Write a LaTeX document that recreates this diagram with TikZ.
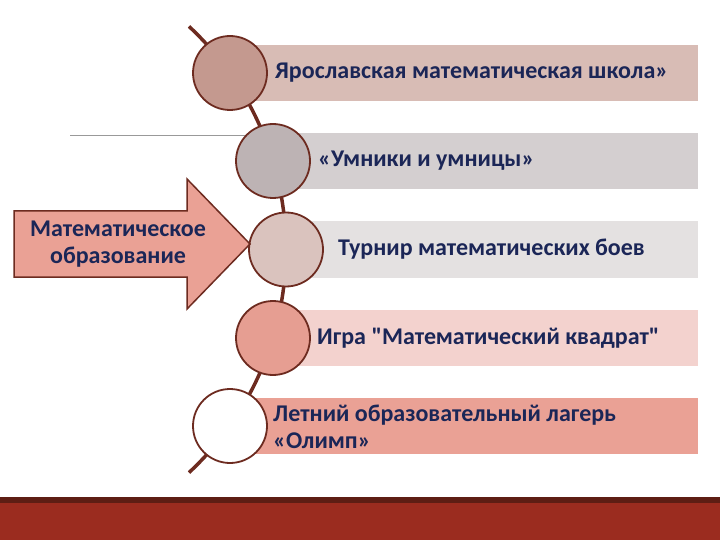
\documentclass[tikz,border=0pt]{standalone}
\usepackage{fontspec}
\setmainfont{Carlito}
\definecolor{rim}{HTML}{6D2B20}
\definecolor{ink}{HTML}{1B2657}
\definecolor{band}{HTML}{9B2C1F}
\definecolor{bandline}{HTML}{5E1E14}
\definecolor{barA}{HTML}{D8BCB5}
\definecolor{barB}{HTML}{D4CFD0}
\definecolor{barC}{HTML}{E4E1E1}
\definecolor{barD}{HTML}{F3D2CE}
\definecolor{barE}{HTML}{EAA195}
\definecolor{dotA}{HTML}{C4998F}
\definecolor{dotB}{HTML}{BDB3B4}
\definecolor{dotC}{HTML}{DAC3BE}
\definecolor{dotD}{HTML}{E69E92}
\definecolor{dotE}{HTML}{FFFFFF}
\tikzset{
  dot/.style={circle, draw=rim, line width=1.8pt, minimum size=74pt, inner sep=0pt},
  label/.style={anchor=west, text=ink, font=\fontsize{24}{27}\selectfont\bfseries, align=left, inner sep=0pt}
}
\begin{document}
\begin{tikzpicture}[x=1pt,y=-1pt]
  \useasboundingbox (0,0) rectangle (720,540);
  % bottom band
  \fill[bandline] (0,497) rectangle (720,503);
  \fill[band] (0,503) rectangle (720,540);
  \draw[gray!80] (70,135) -- (245,135);
  % bars
  \foreach \y/\x/\col in {73/230/barA, 161/273/barB, 249.5/286/barC, 338/273/barD, 426/230/barE}
    \fill[\col] (\x,\y-28) rectangle (698,\y+28);
  % bent line
  \coordinate (hub) at (-19,249.5);
  \draw[rim, line width=3.5pt] (hub) ++(-47:305) arc (-47:47:305);
  % circles
  \foreach \n/\y/\x/\col in {1/73/230/dotA, 2/161/273/dotB, 3/249.5/286/dotC, 4/338/273/dotD, 5/426/230/dotE}
    \node[dot, fill=\col] (c\n) at (\x,\y) {};
  \node[label] (t1) at (275,73) {Ярославская математическая школа»};
  \node[label] (t2) at (318,161) {«Умники и умницы»};
  \node[label] (t3) at (338,249.5) {Турнир математических боев};
  \node[label] (t4) at (317,338) {Игра \textquotedbl Математический квадрат\textquotedbl};
  \node[label] (t5) at (273,427) {Летний образовательный лагерь\\«Олимп»};
  % arrow
  \draw[rim, fill=barE, line width=1.5pt] (14,211) -- (187,211) -- (187,179) -- (250,244)
    -- (187,309) -- (187,277) -- (14,277) -- cycle;
  \node[label, anchor=center, align=center] (src) at (118,244) {Математическое\\образование};
\end{tikzpicture}
\end{document}
